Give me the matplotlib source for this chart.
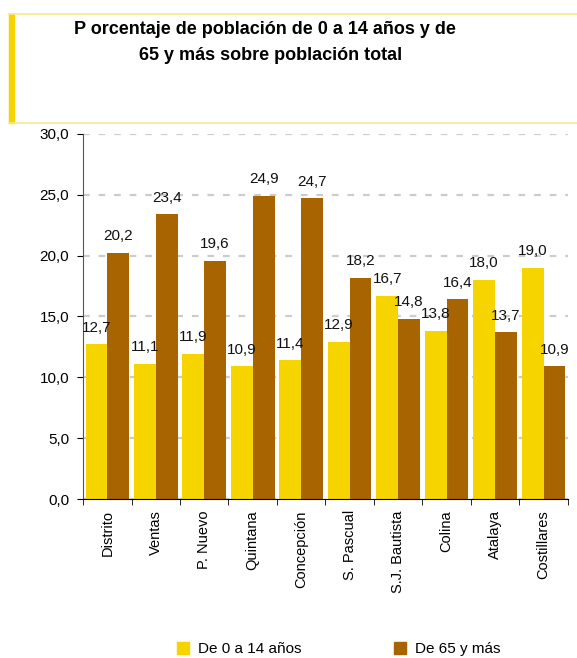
import matplotlib.pyplot as plt
import matplotlib.patches as mpatches
from matplotlib.ticker import FuncFormatter, FixedLocator
import numpy as np

plt.rcParams['font.family'] = ['Liberation Sans', 'DejaVu Sans']

barrios = ['Distrito', 'Ventas', 'P. Nuevo', 'Quintana', 'Concepción',
           'S. Pascual', 'S.J. Bautista', 'Colina', 'Atalaya', 'Costillares']
jovenes = [12.7, 11.1, 11.9, 10.9, 11.4, 12.9, 16.7, 13.8, 18.0, 19.0]
mayores = [20.2, 23.4, 19.6, 24.9, 24.7, 18.2, 14.8, 16.4, 13.7, 10.9]

amarillo = '#F5D400'
marron = '#A86400'

fig = plt.figure(figsize=(5.77, 6.58), dpi=100)
ax = fig.add_axes([0.144, 0.2416, 0.84, 0.5548])

x = np.arange(len(barrios))
w = 0.45
b1 = ax.bar(x - w / 2, jovenes, w, color=amarillo)
b2 = ax.bar(x + w / 2, mayores, w, color=marron)

def coma(v):
    return ('%.1f' % v).replace('.', ',')

for rects, vals in ((b1, jovenes), (b2, mayores)):
    for r, v in zip(rects, vals):
        ax.text(r.get_x() + r.get_width() / 2, v + 0.8, coma(v),
                ha='center', va='bottom', fontsize=11, color='#111111')

ax.set_ylim(0, 30)
ax.set_xlim(-0.5, len(barrios) - 0.5)
ax.set_yticks(np.arange(0, 31, 5))
ax.yaxis.set_major_formatter(FuncFormatter(lambda v, p: coma(v)))
ax.yaxis.grid(True, linestyle=(0, (3, 4)), color='#cccccc', linewidth=1.6)
ax.set_axisbelow(True)

ax.set_xticks(x)
ax.set_xticklabels(barrios, rotation=90, fontsize=10.5)
ax.tick_params(axis='x', length=0, pad=8)
ax.xaxis.set_minor_locator(FixedLocator(np.arange(-0.5, len(barrios), 1.0)))
ax.tick_params(axis='x', which='minor', length=4, direction='out')
ax.tick_params(axis='y', labelsize=11, length=4, direction='out', pad=6)

for s in ('top', 'right'):
    ax.spines[s].set_visible(False)
ax.spines['left'].set_color('#555555')
ax.spines['bottom'].set_color('#000000')

# cuadro del titulo
fig.patches.append(mpatches.Rectangle((9 / 577, 1 - 123 / 658), 5 / 577, 109 / 658,
                                      transform=fig.transFigure, color=amarillo))
fig.add_artist(plt.Line2D([9 / 577, 1], [1 - 14 / 658] * 2, color='#F7E98E', lw=1.2))
fig.add_artist(plt.Line2D([9 / 577, 1], [1 - 123 / 658] * 2, color='#F7E98E', lw=1.2))
fig.text(265 / 577, 1 - 30 / 658, 'P orcentaje de población de 0 a 14 años y de',
         ha='center', va='center', fontsize=13, fontweight='bold')
fig.text(271 / 577, 1 - 55 / 658, '65 y más sobre población total',
         ha='center', va='center', fontsize=13, fontweight='bold')

handles = [mpatches.Patch(color=amarillo, label='De 0 a 14 años'),
           mpatches.Patch(color=marron, label='De 65 y más')]
fig.legend(handles=handles, loc='center', bbox_to_anchor=(0.587, 1 - 649 / 658),
           ncol=2, frameon=False, fontsize=11, columnspacing=6,
           handlelength=0.8, handleheight=0.8, handletextpad=0.6)

fig.savefig('out.png', dpi=100)
